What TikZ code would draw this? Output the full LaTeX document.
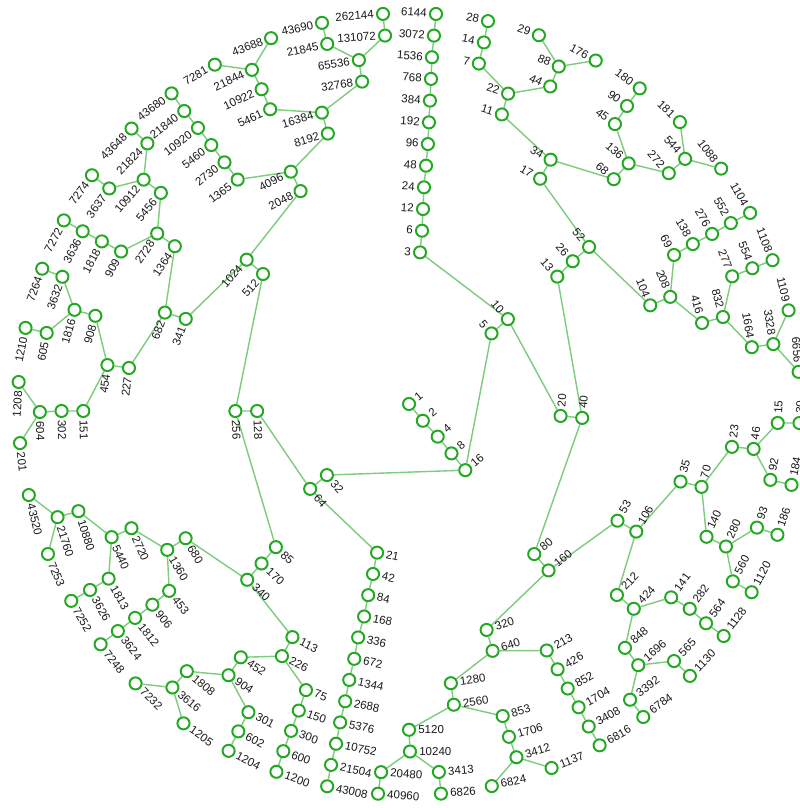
\documentclass[tikz,border=0pt]{standalone}
\usepackage{fontspec}
\setmainfont{Liberation Sans}
\usetikzlibrary{backgrounds}
\definecolor{nodegreen}{RGB}{34,168,34}
\definecolor{linkgreen}{RGB}{125,204,125}
\definecolor{lbltext}{RGB}{25,25,25}
\tikzset{
  cnode/.style={circle, draw=nodegreen, fill=white, line width=1.4pt, minimum size=8.6, inner sep=0pt},
  lbl/.style={inner sep=0pt, text=lbltext, font=\fontsize{8.2}{9.5}\selectfont},
  link/.style={draw=linkgreen, line width=1.0pt}
}
% name, x(px), y(px, screen), depth
\newcommand\cz[4]{%
  \pgfmathsetmacro\czang{atan2(404-(#3),(#2)-409)}%
  \pgfmathsetmacro\czx{409+#4*21.72*cos(\czang)}%
  \pgfmathsetmacro\czy{404+#4*21.72*sin(\czang)}%
  \pgfmathsetmacro\czlx{\czx+9*cos(\czang+90)}%
  \pgfmathsetmacro\czly{\czy+9*sin(\czang+90)}%
  \node[cnode] (n#1) at (\czx,\czy) {};%
  \ifdim\czang pt>0pt
    \pgfmathsetmacro\czrot{\czang-90}%
    \node[lbl, anchor=east, rotate=\czrot] (l#1) at (\czlx,\czly) {#1};%
  \else
    \pgfmathsetmacro\czrot{\czang+90}%
    \node[lbl, anchor=west, rotate=\czrot] (l#1) at (\czlx,\czly) {#1};%
  \fi
}
\begin{document}
\begin{tikzpicture}[x=0.025cm,y=0.025cm]
\useasboundingbox (0,0) rectangle (800,808);
\foreach \n/\x/\y/\d in {
1/423/421/0, 2/423/421/1, 4/438/437/2, 8/452/454/3, 16/466/471/4,
32/327/475/5, 5/492/333/5,
64/310/489/6, 10/508/319/6,
128/257/411/7, 21/377/553/7, 20/561/416/7, 3/420/253/7,
256/236/411/8, 42/373/574/8, 40/583/418/8, 6/422/231/8,
512/263/274/9, 85/276/547/9, 84/368/596/9, 80/535/555/9, 13/558/276/9, 12/423/209/9,
1024/247/260/10, 170/262/563/10, 168/364/617/10, 160/549/571/10, 26/573/261/10, 24/424/187/10,
2048/301/192/11, 341/186/319/11, 340/247/580/11, 336/358/638/11, 320/487/631/11, 53/618/521/11, 52/589/247/11, 48/426/166/11,
4096/291/172/12, 682/166/313/12, 680/186/538/12, 113/292/638/12, 672/354/660/12, 640/493/652/12, 106/637/532/12, 104/651/305/12, 17/540/179/12, 96/428/143/12,
8192/328/134/13, 1365/238/180/13, 1364/176/247/13, 227/129/368/13, 1360/167/550/13, 226/281/658/13, 1344/349/681/13, 1280/451/684/13, 213/547/651/13, 212/618/596/13, 35/682/482/13, 208/670/297/13, 34/551/159/13, 192/429/122/13,
16384/322/113/14, 2730/225/163/14, 2728/158/234/14, 454/107/365/14, 2720/132/528/14, 453/169/591/14, 452/241/657/14, 75/306/690/14, 2688/345/702/14, 2560/454/706/14, 426/558/670/14, 424/634/609/14, 70/702/487/14, 416/702/323/14, 69/674/255/14, 68/614/179/14, 11/502/114/14, 384/430/100/14,
32768/362/81/15, 5461/270/109/15, 5460/212/146/15, 5456/161/193/15, 909/122/252/15, 908/96/316/15, 151/83/411/15, 5440/112/537/15, 906/152/605/15, 904/228/676/15, 150/299/710/15, 5376/340/723/15, 5120/409/731/15, 853/503/717/15, 852/568/689/15, 848/626/649/15, 141/672/598/15, 140/707/537/15, 23/733/447/15, 832/723/317/15, 138/693/244/15, 136/629/163/15, 22/508/94/15, 768/431/79/15,
65536/359/61/16, 10922/262/90/16, 10920/198/128/16, 10912/144/180/16, 1818/103/242/16, 1816/75/310/16, 302/61/411/16, 10880/79/511/16, 1813/108/579/16, 1812/135/618/16, 1808/187/671/16, 301/248/713/16, 300/291/731/16, 10752/336/744/16, 10240/410/753/16, 1706/509/737/16, 1704/579/708/16, 1696/639/666/16, 282/690/609/16, 280/727/547/16, 46/754/449/16, 1664/753/347/16, 277/733/276/16, 276/712/234/16, 272/669/173/16, 45/615/124/16, 44/550/87/16, 7/479/63/16, 1536/432/57/16,
131072/385/35/17, 21845/327/43/17, 21844/252/70/17, 21840/185/112/17, 21824/148/144/17, 3637/110/189/17, 3636/84/232/17, 3632/63/277/17, 605/47/333/17, 604/40/412/17, 21760/58/517/17, 3626/90/590/17, 3624/118/631/17, 3616/172/688/17, 602/238/732/17, 600/283/752/17, 21504/331/765/17, 20480/381/773/17, 3413/439/773/17, 3412/517/759/17, 3408/589/727/17, 3392/631/701/17, 565/675/662/17, 564/707/624/17, 560/734/582/17, 93/758/528/17, 92/771/480/17, 15/778/423/17, 3328/774/344/17, 554/753/268/17, 552/731/223/17, 544/685/159/17, 90/627/106/17, 88/559/66/17, 14/484/42/17, 3072/434/35/17,
262144/383/14/18, 43690/322/23/18, 43688/271/38/18, 7281/215/65/18, 43680/172/94/18, 43648/132/129/18, 7274/93/176/18, 7272/65/221/18, 7264/43/269/18, 1210/26/328/18, 1208/19/382/18, 201/21/443/18, 43520/29/495/18, 7253/48/554/18, 7252/71/601/18, 7248/101/644/18, 7232/135/684/18, 1205/183/724/18, 1204/228/752/18, 1200/276/773/18, 43008/327/787/18, 40960/378/794/18, 6826/441/794/18, 6824/492/787/18, 1137/552/769/18, 6816/600/746/18, 6784/644/718/18, 1130/691/677/18, 1128/725/637/18, 1120/753/593/18, 186/778/535/18, 184/792/485/18, 30/798/423/18, 6656/797/372/18, 1109/790/310/18, 1108/773/260/18, 1104/750/213/18, 1088/722/168/18, 181/680/122/18, 180/640/88/18, 176/596/60/18, 29/539/35/18, 28/488/21/18, 6144/436/14/18}
  {\cz{\n}{\x}{\y}{\d}}
\begin{pgfonlayer}{background}
\fill[white] (0,0) rectangle (800,808);
\foreach \a/\b in {1/2, 2/4, 4/8, 8/16, 16/32, 16/5, 32/64, 5/10, 64/128, 64/21, 10/20, 10/3, 128/256, 21/42, 20/40, 3/6, 256/512, 256/85, 42/84, 40/80, 40/13, 6/12, 512/1024, 85/170, 84/168, 80/160, 13/26, 12/24, 1024/2048, 1024/341, 170/340, 168/336, 160/320, 160/53, 26/52, 24/48, 2048/4096, 341/682, 340/680, 340/113, 336/672, 320/640, 53/106, 52/104, 52/17, 48/96, 4096/8192, 4096/1365, 682/1364, 682/227, 680/1360, 113/226, 672/1344, 640/1280, 640/213, 106/212, 106/35, 104/208, 17/34, 96/192, 8192/16384, 1365/2730, 1364/2728, 227/454, 1360/2720, 1360/453, 226/452, 226/75, 1344/2688, 1280/2560, 213/426, 212/424, 35/70, 208/416, 208/69, 34/68, 34/11, 192/384, 16384/32768, 16384/5461, 2730/5460, 2728/5456, 2728/909, 454/908, 454/151, 2720/5440, 453/906, 452/904, 75/150, 2688/5376, 2560/5120, 2560/853, 426/852, 424/848, 424/141, 70/140, 70/23, 416/832, 69/138, 68/136, 11/22, 384/768, 32768/65536, 5461/10922, 5460/10920, 5456/10912, 909/1818, 908/1816, 151/302, 5440/10880, 5440/1813, 906/1812, 904/1808, 904/301, 150/300, 5376/10752, 5120/10240, 853/1706, 852/1704, 848/1696, 141/282, 140/280, 23/46, 832/1664, 832/277, 138/276, 136/272, 136/45, 22/44, 22/7, 768/1536, 65536/131072, 65536/21845, 10922/21844, 10920/21840, 10912/21824, 10912/3637, 1818/3636, 1816/3632, 1816/605, 302/604, 10880/21760, 1813/3626, 1812/3624, 1808/3616, 301/602, 300/600, 10752/21504, 10240/20480, 10240/3413, 1706/3412, 1704/3408, 1696/3392, 1696/565, 282/564, 280/560, 280/93, 46/92, 46/15, 1664/3328, 277/554, 276/552, 272/544, 45/90, 44/88, 7/14, 1536/3072, 131072/262144, 21845/43690, 21844/43688, 21844/7281, 21840/43680, 21824/43648, 3637/7274, 3636/7272, 3632/7264, 605/1210, 604/1208, 604/201, 21760/43520, 21760/7253, 3626/7252, 3624/7248, 3616/7232, 3616/1205, 602/1204, 600/1200, 21504/43008, 20480/40960, 3413/6826, 3412/6824, 3412/1137, 3408/6816, 3392/6784, 565/1130, 564/1128, 560/1120, 93/186, 92/184, 15/30, 3328/6656, 3328/1109, 554/1108, 552/1104, 544/1088, 544/181, 90/180, 88/176, 88/29, 14/28, 3072/6144}
  {\draw[link] (n\a) -- (n\b);}
\end{pgfonlayer}
\end{tikzpicture}
\end{document}
